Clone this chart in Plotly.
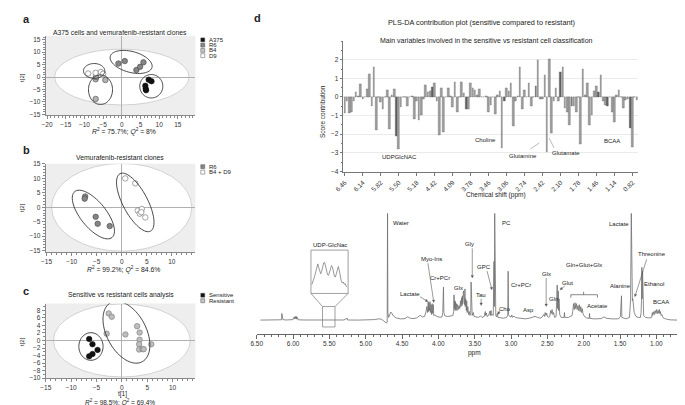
import math
import plotly.graph_objects as go

W, H = 685, 405
FONT = "Liberation Sans, Arial, sans-serif"


def fx(x):
    return x / W


def fy(y):
    return 1 - y / H


# ---------------- DATA ----------------
# Panel a
a375_x = [7.2, 7.95, 6.3, 6.4, 6.5]
a375_y = [-1.05, -1.7, -3.5, -4.7, -5.3]
r6a_x = [-0.9, 0.8, 3.9, 4.9, 5.8]
r6a_y = [5.4, 6.4, 2.8, 4.1, 5.9]
b4_x = [-7.0, -6.9, -4.4, -7.0]
b4_y = [-0.9, 0.0, -1.2, -8.8]
d9_x = [-9.0, -7.0, -5.6, -5.0]
d9_y = [1.4, 1.7, 2.0, 1.3]

# Panel b
r6b_x = [-7.3, -7.4, -5.2, -4.8, -2.4]
r6b_y = [3.75, 3.0, -3.3, -5.7, -6.5]
b4d9_x = [0.7, 2.7, 3.2, 3.6, 4.0, 3.9, 4.7]
b4d9_y = [10.0, 8.3, -1.1, -2.2, -0.6, -1.7, -3.5]

# Panel c
sens_x = [-6.45, -5.8, -4.8, -5.8, -6.45]
sens_y = [0.4, -1.0, -2.5, -3.6, -4.2]
res_x = [-2.6, -2.0, -3.0, 0.7, 3.0, 3.5, 3.5, 3.4, 3.4, 4.1, 4.3, 5.8]
res_y = [7.2, 6.3, 1.8, 1.6, 3.8, 2.1, 0.2, -1.0, -2.4, -2.3, -2.3, -1.0]

# Panel d (top): contribution scores, one per 0.04 ppm bin
contrib = [-0.85, -0.2, -0.85, -0.8, -0.2, 0.25, 0.05, 0.7, -0.1, 0, 0.4, 1.25, -0.5, 1.6,
           -1.8, 0, -0.3, -0.65, 0, 0.35, -1.75, 0.1, 0.4, -2.1, -2.8, -0.55, 0, 0, -0.5,
           0, 0.05, -1.2, -0.2, -1.25, -0.95, -0.1, 0.65, 0.25, 0.3, 0.55, 0.75, -0.25,
           -2.05, 0.45, -1.9, 0, 0.45, 0.05, -0.55, 0.8, -0.8, 0, 0.8, 0.2, -0.65, -0.65,
           0.75, 0.45, 0.35, 0.1, 0.4, 0, 0, 0.05, -0.8, -0.45, 0, -0.9, 0.1, 0.3, -2.75,
           -0.25, 0.45, 0.3, 0.75, -1.55, -0.25, 0.05, 1.6, -0.65, 0.35, 0, 0.75, -0.5, 0,
           0.6, 2.0, -0.1, -0.1, 1.2, -2.95, 2.05, -1.95, -0.25, 0.5, -0.25, 1.35, 1.6,
           -0.6, -0.8, -1.5, -0.5, -0.5, -0.8, 0, -2.55, 1.5, 0.1, 0.75, -1.5, -1.0, 0.3,
           0.6, 0.25, 1.15, -0.2, -0.45, -0.5, 0, -0.8, -1.35, 0.1, 0.35, 0, -0.6, -0.15,
           -0.1, -1.65, -2.7, 0, -0.15]
shift_labels = ["6.46", "6.14", "5.82", "5.50", "5.18", "4.42", "4.09", "3.78", "3.46",
                "3.06", "2.74", "2.42", "2.10", "1.78", "1.46", "1.14", "0.82"]
dark_bins = [23, 39, 54, 71, 85, 96, 101, 113, 117, 127]

# Panel d (bottom): 1H-NMR spectrum vertices (ppm, intensity)
spectrum = [
    (6.45, 0.3), (6.30, 0.4), (6.20, 0.3), (6.16, 0.6), (6.155, 7), (6.15, 3), (6.145, 6),
    (6.14, 0.8), (6.10, 0.4), (6.05, 0.5), (6.00, 0.8), (5.985, 3.5), (5.978, 1.5),
    (5.97, 4), (5.962, 1.5), (5.955, 4), (5.948, 1.2), (5.94, 3), (5.93, 0.6), (5.85, 0.4),
    (5.75, 0.3), (5.62, 0.4), (5.57, 0.6), (5.55, 0.3), (5.52, 0.6), (5.48, 0.4),
    (5.40, 0.3), (5.30, 0.4), (5.255, 2.2), (5.25, 0.4), (5.10, 0.3), (4.95, 0.4),
    (4.88, 0.8), (4.82, 1.6), (4.78, 1.0), (4.75, -0.8), (4.72, -2.5), (4.705, -2),
    (4.70, 109), (4.695, 8), (4.685, 3), (4.67, 6), (4.655, 8.5), (4.64, 7), (4.62, 4.5),
    (4.58, 2.5), (4.52, 1.5), (4.46, 1.8), (4.42, 3.8), (4.40, 2.5), (4.35, 1.8),
    (4.30, 2.4), (4.27, 4.5), (4.25, 5.2), (4.22, 3.5), (4.19, 4), (4.17, 9), (4.16, 14),
    (4.15, 8), (4.14, 19), (4.135, 9), (4.13, 18), (4.12, 10), (4.115, 19), (4.11, 8),
    (4.10, 16), (4.095, 6), (4.085, 17), (4.08, 7), (4.07, 16), (4.065, 5), (4.05, 5.5),
    (4.02, 4), (3.98, 3.2), (3.95, 3.5), (3.94, 8), (3.93, 34), (3.925, 8), (3.91, 4.5),
    (3.87, 4), (3.83, 4.5), (3.80, 5), (3.79, 9), (3.785, 26), (3.78, 12), (3.775, 20),
    (3.77, 10), (3.765, 19), (3.76, 11), (3.75, 17), (3.745, 10), (3.735, 16),
    (3.725, 11), (3.715, 15), (3.705, 12), (3.695, 20), (3.69, 14), (3.68, 23),
    (3.675, 15), (3.67, 25), (3.665, 17), (3.655, 30), (3.65, 16), (3.645, 28),
    (3.64, 16), (3.635, 32), (3.63, 14), (3.625, 22), (3.615, 10), (3.61, 20),
    (3.605, 8), (3.595, 14), (3.585, 6), (3.575, 9), (3.565, 5), (3.555, 8), (3.55, 39),
    (3.545, 9), (3.535, 5), (3.52, 8), (3.51, 4), (3.48, 3.5), (3.45, 3), (3.42, 4.5),
    (3.40, 3), (3.37, 4), (3.355, 9), (3.35, 5), (3.34, 7.5), (3.33, 4), (3.31, 5),
    (3.29, 9.5), (3.285, 5), (3.275, 10), (3.27, 5), (3.26, 6), (3.245, 5), (3.235, 60),
    (3.23, 14), (3.225, 109), (3.22, 12), (3.21, 5), (3.20, 3.5), (3.19, 7), (3.18, 3),
    (3.15, 2.5), (3.10, 2.2), (3.06, 3), (3.045, 5.5), (3.04, 50), (3.035, 6), (3.02, 4),
    (3.00, 3.5), (2.99, 5.5), (2.98, 3), (2.96, 4.5), (2.94, 3), (2.91, 2.5), (2.85, 1.8),
    (2.80, 1.6), (2.75, 2.2), (2.70, 3), (2.67, 4), (2.64, 3.2), (2.60, 2.2), (2.57, 3.5),
    (2.55, 6), (2.54, 4), (2.53, 8), (2.52, 5), (2.51, 7.5), (2.50, 4), (2.48, 3),
    (2.465, 5), (2.455, 10), (2.445, 7), (2.435, 11), (2.425, 6), (2.415, 8), (2.40, 3),
    (2.38, 4), (2.365, 36), (2.36, 12), (2.35, 30), (2.345, 10), (2.34, 22), (2.33, 6),
    (2.31, 3), (2.27, 3), (2.265, 8), (2.26, 3), (2.21, 3), (2.16, 5), (2.15, 10),
    (2.14, 17), (2.13, 11), (2.12, 18), (2.11, 12), (2.10, 17), (2.09, 11), (2.08, 15),
    (2.07, 10), (2.06, 16), (2.05, 9), (2.04, 14), (2.03, 8), (2.02, 12), (2.01, 7),
    (1.99, 4), (1.96, 2.5), (1.925, 2), (1.92, 7), (1.915, 2), (1.85, 1.5), (1.76, 1.8),
    (1.72, 3.5), (1.68, 2), (1.60, 1.5), (1.52, 1.6), (1.495, 4), (1.49, 25), (1.485, 6),
    (1.48, 25), (1.475, 3), (1.42, 1.6), (1.37, 3), (1.355, 21), (1.345, 109), (1.34, 30),
    (1.335, 109), (1.33, 20), (1.325, 22), (1.315, 15), (1.305, 8), (1.28, 4), (1.25, 3),
    (1.22, 3), (1.21, 8), (1.205, 20), (1.20, 54), (1.195, 22), (1.19, 50), (1.185, 20),
    (1.18, 30), (1.175, 5), (1.15, 3), (1.10, 2.5), (1.065, 3), (1.055, 8), (1.05, 5),
    (1.045, 9), (1.04, 5), (1.035, 9), (1.025, 6), (1.015, 10), (1.005, 7), (0.995, 11),
    (0.985, 7), (0.975, 10), (0.965, 7), (0.96, 11), (0.95, 7), (0.945, 9), (0.935, 5),
    (0.925, 6), (0.91, 3), (0.89, 2), (0.85, 1), (0.80, 0.5), (0.70, 0.3), (0.56, 0.3)]
spec_ppm = [p for p, _ in spectrum]
spec_int = [v for _, v in spectrum]

# UDP-GlcNAc inset (zoomed region 5.60 - 5.42 ppm)
inset_ppm = [5.600, 5.595, 5.590, 5.585, 5.580, 5.575, 5.570, 5.565, 5.560, 5.555, 5.550,
             5.545, 5.540, 5.535, 5.530, 5.525, 5.520, 5.515, 5.510, 5.505, 5.500, 5.495,
             5.490, 5.485, 5.480, 5.475, 5.470, 5.465, 5.460, 5.455, 5.450, 5.445, 5.440,
             5.435, 5.430, 5.425, 5.420]
inset_int = [28, 35, 45, 55, 70, 85, 90, 78, 65, 60, 68, 85, 93, 95, 82, 66, 57, 55, 65,
             80, 85, 80, 62, 52, 50, 62, 78, 82, 70, 50, 38, 32, 35, 28, 30, 22, 20]

# ---------------- LAYOUT GEOMETRY (pixels) ----------------
panels = {
    "a": dict(xd=(28, 180), yd=(25, 106), xr=(-20.4, 19.7), yr=(-15.4, 16.6), dt=5),
    "b": dict(xd=(28, 180), yd=(155, 245), xr=(-15.2, 14.7), yr=(-15.6, 15.1), dt=5),
    "c": dict(xd=(28, 180), yd=(297, 373), xr=(-15.05, 14.5), yr=(-10.1, 9.8), dt=2),
}
for p in panels.values():
    p["sx"] = (p["xd"][1] - p["xd"][0]) / (p["xr"][1] - p["xr"][0])
    p["sy"] = (p["yd"][1] - p["yd"][0]) / (p["yr"][1] - p["yr"][0])

fig = go.Figure()
axid = {"a": ("x", "y"), "b": ("x2", "y2"), "c": ("x3", "y3")}


def mk(xs, ys, color, panel, lc="#444"):
    xa, ya = axid[panel]
    fig.add_trace(go.Scatter(x=xs, y=ys, mode="markers", xaxis=xa, yaxis=ya,
                             showlegend=False, hoverinfo="skip",
                             marker=dict(size=5.5, color=color, line=dict(color=lc, width=0.6))))


mk(a375_x, a375_y, "#111111", "a", "#111")
mk(r6a_x, r6a_y, "#858585", "a")
mk(b4_x, b4_y, "#b4b4b4", "a")
mk(d9_x, d9_y, "#ffffff", "a", "#666")
mk(r6b_x, r6b_y, "#858585", "b")
mk(b4d9_x, b4d9_y, "#ffffff", "b", "#666")
mk(sens_x, sens_y, "#111111", "c", "#111")
mk(res_x, res_y, "#bdbdbd", "c", "#777")

shapes = []
annotations = []


def ann(x, y, text, size=6.5, xanchor="center", yanchor="middle", angle=0, color="#222"):
    annotations.append(dict(x=fx(x), y=fy(y), xref="paper", yref="paper", text=text,
                            showarrow=False, xanchor=xanchor, yanchor=yanchor, textangle=angle,
                            font=dict(family=FONT, size=size, color=color)))


def line(x0, y0, x1, y1, color="#555", width=0.6):
    shapes.append(dict(type="line", xref="paper", yref="paper", x0=fx(x0), y0=fy(y0),
                       x1=fx(x1), y1=fy(y1), line=dict(color=color, width=width)))


def arrow(x0, y0, x1, y1, hl=2.6, hw=1.3):
    # shaft + small filled arrow head (pixel geometry converted to paper coords)
    dx, dy = x1 - x0, y1 - y0
    L = math.hypot(dx, dy)
    ux, uy = dx / L, dy / L
    bx, by = x1 - ux * hl, y1 - uy * hl
    line(x0, y0, bx, by, "#555", 0.6)
    p1 = (bx + uy * hw, by - ux * hw)
    p2 = (bx - uy * hw, by + ux * hw)
    path = "M {:.5f},{:.5f} L {:.5f},{:.5f} L {:.5f},{:.5f} Z".format(
        fx(x1), fy(y1), fx(p1[0]), fy(p1[1]), fx(p2[0]), fy(p2[1]))
    shapes.append(dict(type="path", xref="paper", yref="paper", path=path,
                       fillcolor="#555", line=dict(color="#555", width=0.3)))


def ellipse_path(panel, cx, cy, a_px, b_px, ang):
    p = panels[panel]
    th = math.radians(ang)
    pts = []
    for k in range(73):
        t = 2 * math.pi * k / 72
        dxp = a_px * math.cos(t) * math.cos(th) - b_px * math.sin(t) * math.sin(th)
        dyp = a_px * math.cos(t) * math.sin(th) + b_px * math.sin(t) * math.cos(th)
        pts.append((cx + dxp / p["sx"], cy - dyp / p["sy"]))
    return "M " + " L ".join(f"{x:.4f},{y:.4f}" for x, y in pts) + " Z"


# Hotelling ellipses (white fill) and cluster ellipses
big = {"a": (18, 11.2), "b": (14, 15.2), "c": (13.5, 9.7)}
clusters = {
    "a": [(7.9, -3.7, 11.7, 11.9, 0), (2.5, 6.05, 21.9, 10.6, 15), (-7.4, 2.45, 10.8, 7.5, 0),
          (-5.7, -5.1, 12.2, 15, 0)],
    "b": [(-5.66, -2.5, 30, 13, 51), (2.7, 1.7, 33, 12.5, 62)],
    "c": [(-6.1, -1.6, 12.3, 14.0, 0), (0.9, 2.2, 34, 20, 62)],
}
for k, (rx, ry) in big.items():
    xa, ya = axid[k]
    shapes.append(dict(type="rect", xref=xa + " domain", yref=ya + " domain", x0=0, x1=1,
                       y0=0, y1=1, fillcolor="#eeeeee", line=dict(width=0), layer="below"))
    shapes.append(dict(type="circle", xref=xa, yref=ya, x0=-rx, x1=rx, y0=-ry, y1=ry,
                       fillcolor="white", line=dict(color="#c8c8c8", width=0.8), layer="below"))
    for (cx, cy, a_px, b_px, ang) in clusters[k]:
        shapes.append(dict(type="path", xref=xa, yref=ya,
                           path=ellipse_path(k, cx, cy, a_px, b_px, ang),
                           line=dict(color="#333", width=0.9)))

# ---- axes for scatter panels ----
layout_axes = {}
for i, k in enumerate(["a", "b", "c"]):
    p = panels[k]
    sfx = "" if i == 0 else str(i + 1)
    common = dict(showline=True, linecolor="#888", linewidth=0.7, ticks="outside", ticklen=3,
                  tickcolor="#888", tickwidth=0.6, showgrid=False, zeroline=True,
                  zerolinecolor="#b0b0b0", zerolinewidth=0.6,
                  tickfont=dict(family=FONT, size=6.5, color="#333"),
                  minor=dict(ticks="outside", ticklen=1.5, tickcolor="#888", dtick=1))
    layout_axes["xaxis" + sfx] = dict(common, domain=[fx(p["xd"][0]), fx(p["xd"][1])],
                                      range=list(p["xr"]), dtick=5, tick0=0,
                                      anchor="y" + sfx)
    layout_axes["yaxis" + sfx] = dict(common, domain=[fy(p["yd"][1]), fy(p["yd"][0])],
                                      range=list(p["yr"]), dtick=p["dt"], tick0=0,
                                      anchor="x" + sfx)

# ---- panel d top: bar chart ----
nb = len(contrib)
bar_colors = ["#5e5e5e" if i in dark_bins else "#a0a0a0" for i in range(nb)]
fig.add_trace(go.Bar(x=list(range(nb)), y=contrib, width=0.72, xaxis="x4", yaxis="y4",
                     marker=dict(color=bar_colors, line=dict(color="#666666", width=0.4)),
                     showlegend=False, hoverinfo="skip"))
layout_axes["xaxis4"] = dict(domain=[fx(330.3), fx(629.5)], range=[-0.6, nb - 0.4],
                             anchor="y4", tickvals=list(range(0, 8 * len(shift_labels), 8)),
                             ticktext=shift_labels, tickangle=-45, ticks="outside", ticklen=3,
                             tickcolor="#777", showline=True, linecolor="#777", linewidth=0.7,
                             showgrid=False, zeroline=False,
                             tickfont=dict(family=FONT, size=6.5, color="#333"))
layout_axes["yaxis4"] = dict(domain=[fy(163.8), fy(30.6)], range=[-4.05, 3.0], anchor="x4",
                             tickvals=[-4, -3, -2, -1, 0, 1, 2], ticks="outside", ticklen=3,
                             tickcolor="#777", showline=True, linecolor="#777", linewidth=0.7,
                             showgrid=True, gridcolor="#ebebeb", gridwidth=0.6,
                             zeroline=False,
                             minor=dict(ticks="outside", ticklen=1.5, tickcolor="#777",
                                        dtick=0.5, showgrid=False),
                             tickfont=dict(family=FONT, size=6.5, color="#333"))

# ---- panel d bottom: spectrum ----
fig.add_trace(go.Scatter(x=spec_ppm, y=spec_int, mode="lines", xaxis="x5", yaxis="y5",
                         line=dict(color="#6e6e6e", width=0.8), showlegend=False,
                         hoverinfo="skip", cliponaxis=True))
layout_axes["xaxis5"] = dict(domain=[fx(242.3), fx(681.0)], range=[6.5, 0.55], anchor="y5",
                             tickvals=[6.5 - 0.5 * i for i in range(12)], tickformat=".2f",
                             ticks="outside", ticklen=4, tickcolor="#666", showline=True,
                             linecolor="#666", linewidth=0.7, showgrid=False, zeroline=False,
                             minor=dict(ticks="outside", ticklen=2, tickcolor="#666", dtick=0.1,
                                        tick0=0.5),
                             tickfont=dict(family=FONT, size=6.5, color="#333"))
layout_axes["yaxis5"] = dict(domain=[fy(327.7), fy(205.3)], range=[-13.7, 109], anchor="x5",
                             visible=False)

# inset
fig.add_trace(go.Scatter(x=inset_ppm, y=inset_int, mode="lines", xaxis="x6", yaxis="y6",
                         line=dict(color="#6e6e6e", width=0.7), showlegend=False,
                         hoverinfo="skip"))
layout_axes["xaxis6"] = dict(domain=[fx(297.3), fx(335)], range=[5.605, 5.415], anchor="y6",
                             visible=False)
layout_axes["yaxis6"] = dict(domain=[fy(286.7), fy(242.7)], range=[0, 132], anchor="x6",
                             visible=False)
shapes.append(dict(type="rect", xref="paper", yref="paper", x0=fx(297.3), x1=fx(335),
                   y0=fy(286.7), y1=fy(242.7), line=dict(color="#777", width=0.7)))
shapes.append(dict(type="rect", xref="paper", yref="paper", x0=fx(309), x1=fx(321.7),
                   y0=fy(320.7), y1=fy(300), line=dict(color="#777", width=0.7)))
line(297.3, 286.7, 309, 300, "#777", 0.7)
line(335, 286.7, 321.7, 300, "#777", 0.7)

# ---------------- TEXT ----------------
# panel letters
ann(3, 8, "<b>a</b>", 11, "left")
ann(3, 141, "<b>b</b>", 11, "left")
ann(3, 284, "<b>c</b>", 11, "left")
ann(237, 7, "<b>d</b>", 11, "left")

# panel a
ann(104, 22, "A375 cells and vemurafenib-resistant clones", 6.8)
ann(4, 67, "t[2]", 6, angle=-90)
ann(108, 122, "<i>R</i><sup>2</sup> = 75.7%; <i>Q</i><sup>2</sup> = 8%", 6.8)
# panel b
ann(104, 149, "Vemurafenib-resistant clones", 6.8)
ann(4, 199, "t[2]", 6, angle=-90)
ann(107, 262, "<i>R</i><sup>2</sup> = 99.2%; <i>Q</i><sup>2</sup> = 84.6%", 6.8)
# panel c
ann(105, 288, "Sensitive vs resistant cells analysis", 6.8)
ann(4, 335, "t[2]", 6, angle=-90)
ann(106, 389, "t[1]", 6.5)
ann(104, 397.5, "<i>R</i><sup>2</sup> = 98.5%; <i>Q</i><sup>2</sup> = 69.4%", 6.5)

# legends
legends = [
    (29.3, 5.35, [("A375", "#111111"), ("R6", "#858585"), ("B4", "#c4c4c4"), ("D9", "#ffffff")]),
    (158.0, 5.6, [("R6", "#858585"), ("B4 + D9", "#ffffff")]),
    (288.5, 5.6, [("Sensitive", "#111111"), ("Resistant", "#c4c4c4")]),
]
for y0, dy, items in legends:
    for j, (lab, col) in enumerate(items):
        yy = y0 + dy * j
        shapes.append(dict(type="rect", xref="paper", yref="paper", x0=fx(185.5), x1=fx(189.5),
                           y0=fy(yy + 2), y1=fy(yy - 2), fillcolor=col,
                           line=dict(color="#555", width=0.5)))
        ann(191.5, yy, lab, 6, "left")

# panel d top text
ann(470, 12, "PLS-DA contribution plot (sensitive compared to resistant)", 7.3)
ann(475, 30, "Main variables involved in the sensitive vs resistant cell classification", 7)
ann(309, 102, "Score contribution", 6.5, angle=-90)
ann(485, 187, "Chemical shift (ppm)", 6.5)
ann(387, 148, "UDPGlcNAC", 6)
ann(474, 131, "Choline", 6)
ann(512, 147, "Glutamine", 6)
ann(556, 144, "Glutamate", 6)
ann(603, 132, "BCAA", 6)
line(520, 140, 529, 134, "#777", 0.5)
line(539, 129, 544, 139, "#777", 0.5)

# panel d bottom labels
ann(379, 215, "Water", 6, "left")
ann(489, 215, "PC", 6, "left")
ann(610, 216, "Lactate", 6)
ann(317, 238, "UDP-GlcNac", 6)
ann(643, 247, "Threonine", 6)
ann(458, 237, "Gly", 6)
ann(420, 252, "Myo-Ins", 6)
ann(574, 258, "Gln+Glut+Glx", 6)
ann(473, 260, "GPC", 6)
ann(536, 267, "Glx", 6)
ann(428, 271, "Cr+PCr", 6)
ann(510, 278, "Cr+PCr", 6)
ann(558, 276, "Glut", 6)
ann(645, 277, "Ethanol", 6)
ann(611, 279, "Alanine", 6)
ann(447, 281, "Glx", 6)
ann(470, 288, "Tau", 6)
ann(398, 287, "Lactate", 6)
ann(543, 292, "Gln", 6)
ann(653, 295, "BCAA", 6)
ann(588, 299, "Acetate", 6)
ann(518, 304, "Asp", 6)
ann(494, 302, "Cho", 6)
ann(463, 347, "ppm", 6.5)

arrow(461, 241, 461, 271)
arrow(416, 256, 422, 296)
arrow(408, 290, 416, 295)
arrow(476, 264, 481, 283)
arrow(470, 292, 470, 299)
arrow(489, 304, 487, 308)
arrow(536, 271, 536, 300)
arrow(555, 279, 550, 283)
arrow(638, 252, 626, 290)
# bracket
line(561, 288, 588, 288, "#555", 0.7)
line(561, 288, 561, 291, "#555", 0.7)
line(588, 288, 588, 291, "#555", 0.7)
line(574, 288, 574, 285, "#555", 0.7)

fig.update_layout(width=W, height=H, margin=dict(l=0, r=0, t=0, b=0),
                  paper_bgcolor="white", plot_bgcolor="white", showlegend=False,
                  shapes=shapes, annotations=annotations, bargap=0,
                  font=dict(family=FONT, size=7, color="#222"), **layout_axes)
fig.write_html("out.html")
